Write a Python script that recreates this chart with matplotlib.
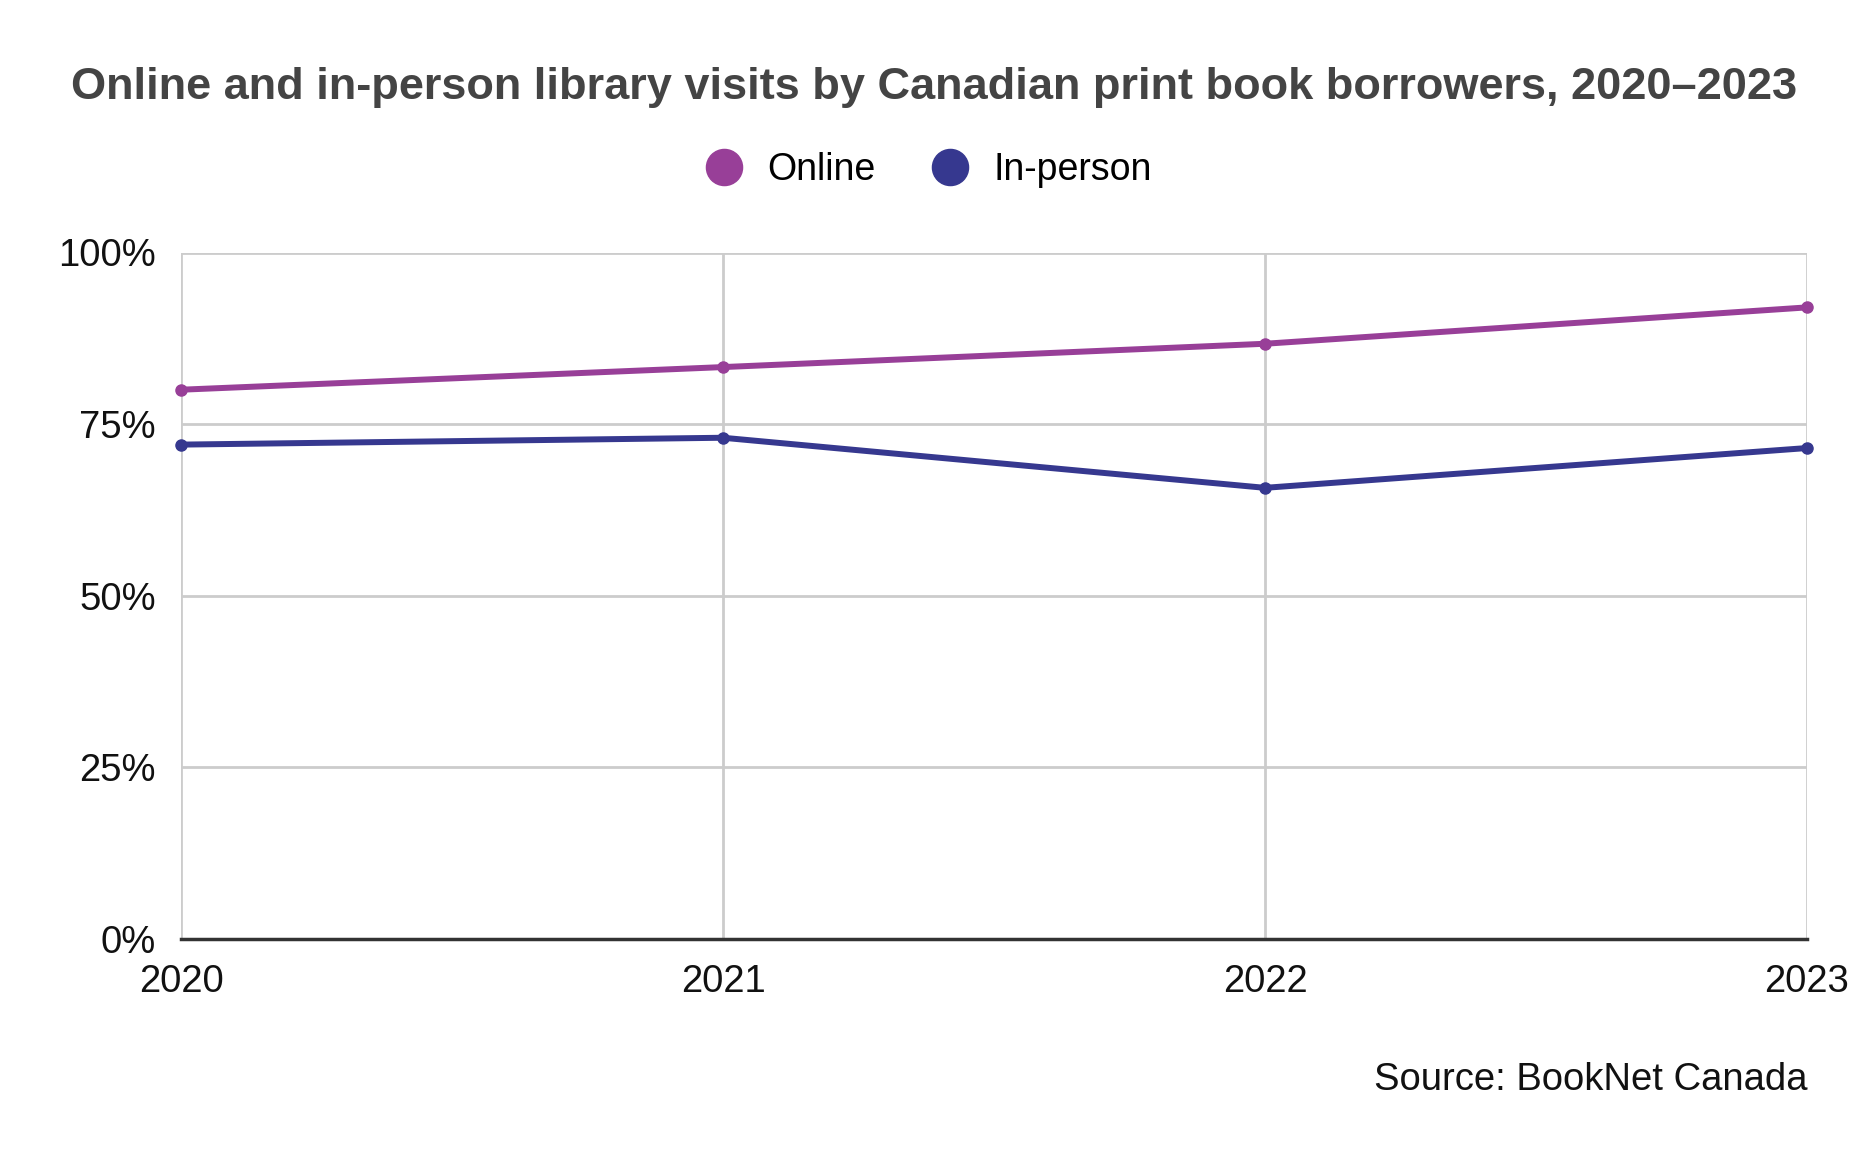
import matplotlib
matplotlib.use('Agg')
import matplotlib.pyplot as plt
from matplotlib.lines import Line2D
from matplotlib.ticker import PercentFormatter

plt.rcParams['font.family'] = ['Liberation Sans', 'DejaVu Sans']

# Data
years = [2020, 2021, 2022, 2023]
online = [80.0, 83.3, 86.7, 92.0]
in_person = [72.0, 73.0, 65.7, 71.5]
series_names = ['Online', 'In-person']

# Colors
online_color = '#983f98'
inperson_color = '#36388f'
grid_color = '#cccccc'

W, H = 1868, 1159
fig = plt.figure(figsize=(W / 100, H / 100), dpi=100)
ax = fig.add_axes([181 / W, 1 - 938.6 / H, (1807 - 181) / W, (938.6 - 252.5) / H])

ax.plot(years, online, color=online_color, lw=4.3, marker='o', ms=8, clip_on=False, zorder=3)
ax.plot(years, in_person, color=inperson_color, lw=4.3, marker='o', ms=8, clip_on=False, zorder=3)

ax.set_xlim(2020, 2023)
ax.set_ylim(0, 100)
ax.set_xticks(years)
ax.set_xticklabels([str(y) for y in years])
ax.set_yticks([0, 25, 50, 75, 100])
ax.yaxis.set_major_formatter(PercentFormatter(decimals=0))

ax.grid(True, color=grid_color, lw=2)
ax.set_axisbelow(True)
for s in ['top', 'right', 'left']:
    ax.spines[s].set_visible(False)
ax.spines['bottom'].set_color('#333333')
ax.spines['bottom'].set_linewidth(2.5)
ax.spines['bottom'].set_zorder(4)
ax.tick_params(axis='both', length=0, labelsize=27.5, colors='#111111')
ax.tick_params(axis='y', pad=18)
ax.tick_params(axis='x', pad=18)

# Title
fig.text(0.5, 1 - 99 / H, 'Online and in-person library visits by Canadian print book borrowers, 2020\u20132023',
         ha='center', va='baseline', fontsize=32.5, fontweight='bold', color='#444444')

# Legend
handles = [Line2D([], [], ls='none', marker='o', ms=26, color=c) for c in (online_color, inperson_color)]
fig.legend(handles, series_names, loc='center', bbox_to_anchor=(0.492, 1 - 170 / H), ncol=2,
           frameon=False, fontsize=27, handletextpad=0.15, columnspacing=1.0)

# Source
fig.text(1807 / W, 1 - 1080 / H, 'Source: BookNet Canada', ha='right', va='center',
         fontsize=27.5, color='#111111')

fig.savefig('out.png', dpi=100, facecolor='white')
